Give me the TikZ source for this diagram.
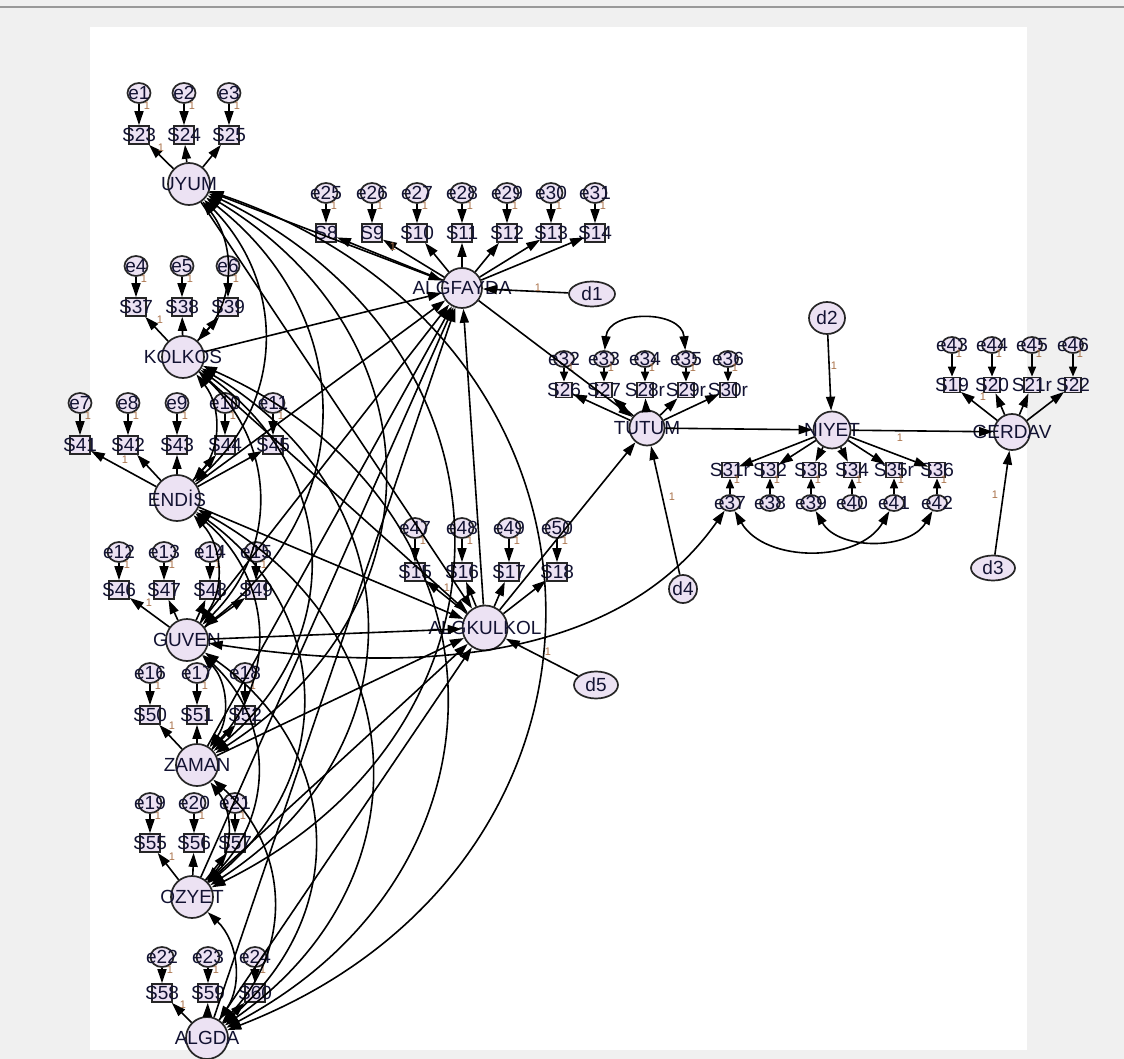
\documentclass[tikz,border=0pt]{standalone}
\usepackage{fontspec}
\setmainfont{Liberation Sans}
\usetikzlibrary{arrows.meta,shapes.geometric}
\definecolor{latc}{RGB}{236,226,243}
\definecolor{txtc}{RGB}{18,18,50}
\definecolor{onec}{RGB}{170,115,75}
\definecolor{bgc}{RGB}{240,240,240}
\newcommand\nd[4]{\node[#1] (#2) at (#3) {}; \node[lbl] at (#3) {#4};}
% e above S
\newcommand\ind[6]{\nd{err}{#1}{#4,#5}{#1}\nd{obs}{#2}{#4,#6}{#3}\draw[arr] (#1) -- (#2);\node[one] at ({#4+8},{#5+13}) {1};}
% small, e above S
\newcommand\indb[6]{\nd{errs}{#1}{#4,#5}{#1}\nd{obss}{#2}{#4,#6}{#3}\draw[arrs] (#1) -- (#2);\node[one] at ({#4+7},{#5+9}) {1};}
% small, e below S
\newcommand\indc[6]{\nd{errs}{#1}{#4,#5}{#1}\nd{obss}{#2}{#4,#6}{#3}\draw[arrs] (#1) -- (#2);\node[one] at ({#4+7},{#6+10}) {1};}
\begin{document}
\begin{tikzpicture}[x=1pt,y=-1pt,
 lbl/.style={font=\fontsize{19}{19}\selectfont, text=txtc, inner sep=0pt},
 one/.style={font=\fontsize{11}{11}\selectfont, text=onec, inner sep=0pt},
 base/.style={draw=black!85, fill=latc, inner sep=0pt, line width=1.7pt},
 lat/.style={base, circle, minimum size=42pt},
 obs/.style={base, rectangle, minimum width=20pt, minimum height=18pt},
 err/.style={base, ellipse, minimum width=23pt, minimum height=20pt},
 obss/.style={base, rectangle, minimum width=16pt, minimum height=15pt},
 errs/.style={base, ellipse, minimum width=20pt, minimum height=16pt},
 arr/.style={-{Triangle[length=14pt,width=9pt]}, line width=1.6pt},
 arrs/.style={-{Triangle[length=10pt,width=8pt]}, line width=1.6pt},
 cov/.style={{Triangle[length=14pt,width=9pt]}-{Triangle[length=14pt,width=9pt]}, line width=1.6pt},
]
\useasboundingbox (0,0) rectangle (1124,1059);
\fill[bgc] (0,0) rectangle (1124,1059);
\draw[black!40, line width=1.5pt] (0,7) -- (1124,7);
\fill[white] (90,27) rectangle (1027,1050);

% ---------- latent variables
\nd{lat}{UYUM}{189,184}{UYUM}
\nd{lat}{KOLKOS}{183,357}{KOLKOS}
\nd{lat, minimum size=46pt}{ENDIS}{177,498}{ENDİS}
\nd{lat}{GUVEN}{187,640}{GUVEN}
\nd{lat}{ZAMAN}{197,765}{ZAMAN}
\nd{lat}{OZYET}{192,897}{OZYET}
\nd{lat}{ALGDA}{207,1038}{ALGDA}
\nd{lat, minimum size=40pt}{ALGFAYDA}{462,288}{ALGFAYDA}
\nd{lat, minimum size=45pt}{ALGKULKOL}{485,628}{ALGKULKOL}
\nd{lat, minimum size=35pt}{TUTUM}{647,428}{TUTUM}
\nd{lat, minimum size=37pt}{NIYET}{832,430}{NIYET}
\nd{lat, minimum size=36pt}{GERDAV}{1012,432}{GERDAV}

% ---------- disturbances
\nd{base, ellipse, minimum width=46pt, minimum height=25pt}{d1}{592,294}{d1}
\nd{base, ellipse, minimum width=36pt, minimum height=32pt}{d2}{827,318}{d2}
\nd{base, ellipse, minimum width=44pt, minimum height=25pt}{d3}{993,568}{d3}
\nd{base, circle, minimum size=28pt}{d4}{683,589}{d4}
\nd{base, ellipse, minimum width=44pt, minimum height=27pt}{d5}{596,685}{d5}

% ---------- indicators
\ind{e1}{S23}{S23}{139}{93}{135}
\ind{e2}{S24}{S24}{184}{93}{135}
\ind{e3}{S25}{S25}{229}{93}{135}
\ind{e4}{S37}{S37}{136}{266}{307}
\ind{e5}{S38}{S38}{182}{266}{307}
\ind{e6}{S39}{S39}{228}{266}{307}
\ind{e7}{S41}{S41}{80}{403}{445}
\ind{e8}{S42}{S42}{128}{403}{445}
\ind{e9}{S43}{S43}{177}{403}{445}
\ind{e10}{S44}{S44}{225}{403}{445}
\ind{e11}{S45}{S45}{273}{403}{445}
\ind{e12}{S46}{S46}{119}{552}{590}
\ind{e13}{S47}{S47}{164}{552}{590}
\ind{e14}{S48}{S48}{210}{552}{590}
\ind{e15}{S49}{S49}{256}{552}{590}
\ind{e16}{S50}{S50}{150}{673}{715}
\ind{e17}{S51}{S51}{197}{673}{715}
\ind{e18}{S52}{S52}{245}{673}{715}
\ind{e19}{S55}{S55}{150}{803}{843}
\ind{e20}{S56}{S56}{194}{803}{843}
\ind{e21}{S57}{S57}{235}{803}{843}
\ind{e22}{S58}{S58}{162}{957}{993}
\ind{e23}{S59}{S59}{208}{957}{993}
\ind{e24}{S60}{S60}{255}{957}{993}
\ind{e25}{S8}{S8}{326}{193}{233}
\ind{e26}{S9}{S9}{372}{193}{233}
\ind{e27}{S10}{S10}{417}{193}{233}
\ind{e28}{S11}{S11}{462}{193}{233}
\ind{e29}{S12}{S12}{507}{193}{233}
\ind{e30}{S13}{S13}{551}{193}{233}
\ind{e31}{S14}{S14}{595}{193}{233}
\ind{e47}{S15}{S15}{415}{528}{572}
\ind{e48}{S16}{S16}{462}{528}{572}
\ind{e49}{S17}{S17}{509}{528}{572}
\ind{e50}{S18}{S18}{557}{528}{572}
\indb{e32}{S26}{S26}{564}{359}{390}
\indb{e33}{S27}{S27}{604}{359}{390}
\indb{e34}{S28r}{S28r}{645}{359}{390}
\indb{e35}{S29r}{S29r}{686}{359}{390}
\indb{e36}{S30r}{S30r}{728}{359}{390}
\indb{e43}{S19}{S19}{952}{345}{385}
\indb{e44}{S20}{S20}{992}{345}{385}
\indb{e45}{S21r}{S21r}{1032}{345}{385}
\indb{e46}{S22}{S22}{1073}{345}{385}
\indc{e37}{S31r}{S31r}{730}{503}{470}
\indc{e38}{S32}{S32}{770}{503}{470}
\indc{e39}{S33}{S33}{811}{503}{470}
\indc{e40}{S34}{S34}{852}{503}{470}
\indc{e41}{S35r}{S35r}{894}{503}{470}
\indc{e42}{S36}{S36}{937}{503}{470}

% ---------- loadings
\foreach \s in {S23,S24,S25} \draw[arr] (UYUM) -- (\s);
\foreach \s in {S37,S38,S39} \draw[arr] (KOLKOS) -- (\s);
\foreach \s in {S41,S42,S43,S44,S45} \draw[arr] (ENDIS) -- (\s);
\foreach \s in {S46,S47,S48,S49} \draw[arr] (GUVEN) -- (\s);
\foreach \s in {S50,S51,S52} \draw[arr] (ZAMAN) -- (\s);
\foreach \s in {S55,S56,S57} \draw[arr] (OZYET) -- (\s);
\foreach \s in {S58,S59,S60} \draw[arr] (ALGDA) -- (\s);
\foreach \s in {S8,S9,S10,S11,S12,S13,S14} \draw[arr] (ALGFAYDA) -- (\s);
\foreach \s in {S15,S16,S17,S18} \draw[arr] (ALGKULKOL) -- (\s);
\foreach \s in {S26,S27,S28r,S29r,S30r} \draw[arr] (TUTUM) -- (\s);
\foreach \s in {S31r,S32,S33,S34,S35r,S36} \draw[arr] (NIYET) -- (\s);
\foreach \s in {S19,S20,S21r,S22} \draw[arr] (GERDAV) -- (\s);
\node[one] at (161,148) {1};
\node[one] at (160,320) {1};
\node[one] at (125,460) {1};
\node[one] at (149,603) {1};
\node[one] at (172,726) {1};
\node[one] at (172,857) {1};
\node[one] at (183,1005) {1};
\node[one] at (393,247) {1};
\node[one] at (447,588) {1};
\node[one] at (983,397) {1};

% ---------- structural paths
\foreach \n in {UYUM,KOLKOS,ENDIS,GUVEN,ZAMAN,OZYET,ALGDA} {
  \draw[arr] (\n) -- (ALGFAYDA);
  \draw[arr] (\n) -- (ALGKULKOL);
}
\draw[arr] (ALGKULKOL) -- (ALGFAYDA);
\draw[arr] (ALGFAYDA) -- (TUTUM);
\draw[arr] (ALGKULKOL) -- (TUTUM);
\draw[arr] (TUTUM) -- (NIYET);
\draw[arr] (NIYET) -- (GERDAV);
\node[one] at (900,438) {1};
\draw[arr] (d1) -- (ALGFAYDA); \node[one] at (538,288) {1};
\draw[arr] (d5) -- (ALGKULKOL); \node[one] at (548,652) {1};
\draw[arr] (d4) -- (TUTUM); \node[one] at (672,497) {1};
\draw[arr] (d2) -- (NIYET); \node[one] at (834,366) {1};
\draw[arr] (d3) -- (GERDAV); \node[one] at (995,495) {1};

% ---------- covariances
\foreach \a/\b/\ang/\lo in {
  UYUM/KOLKOS/40/1.0, UYUM/ENDIS/46/1.08, UYUM/GUVEN/52/1.16, UYUM/ZAMAN/58/1.24, UYUM/OZYET/64/1.32, UYUM/ALGDA/70/1.4,
  KOLKOS/ENDIS/40/1.0, KOLKOS/GUVEN/46/1.08, KOLKOS/ZAMAN/52/1.16, KOLKOS/OZYET/58/1.24, KOLKOS/ALGDA/64/1.32,
  ENDIS/GUVEN/40/1.0, ENDIS/ZAMAN/46/1.08, ENDIS/OZYET/52/1.16, ENDIS/ALGDA/58/1.24,
  GUVEN/ZAMAN/40/1.0, GUVEN/OZYET/46/1.08, GUVEN/ALGDA/52/1.16,
  ZAMAN/OZYET/40/1.0, ZAMAN/ALGDA/46/1.08,
  OZYET/ALGDA/40/1.0}
  \draw[cov] (\a) to[bend left=\ang, looseness=\lo] (\b);
\draw[cov] (e33) to[out=85, in=95, looseness=1.3] (e35);
\draw[cov] (e37) to[out=-60, in=-120] (e41);
\draw[cov] (e39) to[out=-60, in=-120] (e42);
\draw[cov] (GUVEN) .. controls (420,675) and (620,660) .. (e37);
\end{tikzpicture}
\end{document}
